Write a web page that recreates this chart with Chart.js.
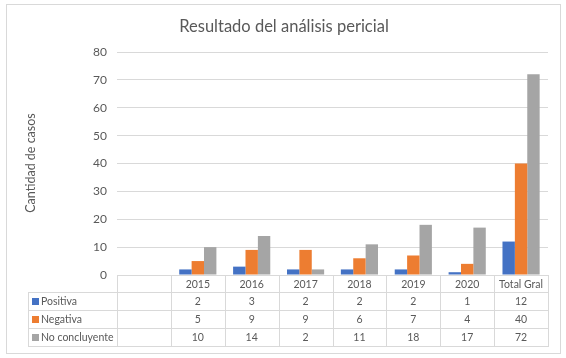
<!DOCTYPE html>
<html>
<head>
<meta charset="utf-8">
<script src="https://cdn.jsdelivr.net/npm/chart.js@4/dist/chart.umd.min.js"></script>
<style>
  html, body { margin: 0; padding: 0; background: #ffffff; }
  canvas { display: block; }
</style>
</head>
<body>
<canvas id="c" width="566" height="358"></canvas>
<script>
const chartTitle = 'Resultado del análisis pericial';
const yAxisTitle = 'Cantidad de casos';
const categories = ['', '2015', '2016', '2017', '2018', '2019', '2020', 'Total Gral'];
const seriesNames = ['Positiva', 'Negativa', 'No concluyente'];
const positiva = [null, 2, 3, 2, 2, 2, 1, 12];
const negativa = [null, 5, 9, 9, 6, 7, 4, 40];
const noConcluyente = [null, 10, 14, 2, 11, 18, 17, 72];
const seriesColors = ['#4472C4', '#ED7D31', '#A5A5A5'];
const yMin = 0, yMax = 80, yStep = 10;

const FONT = 'Lato, "Open Sans", sans-serif';
const TEXT = '#595959';
const LINE = '#D9D9D9';

const seriesData = [positiva, negativa, noConcluyente];

const framePlugin = {
  id: 'frame',
  beforeDraw(chart) {
    const ctx = chart.ctx;
    ctx.save();
    ctx.fillStyle = '#ffffff';
    ctx.fillRect(0, 0, chart.width, chart.height);
    ctx.strokeStyle = LINE;
    ctx.lineWidth = 1;
    ctx.strokeRect(6.5, 4.5, 554, 349);
    ctx.restore();
  },
  afterDraw(chart) {
    const ctx = chart.ctx;
    const ca = chart.chartArea;
    const x = chart.scales.x;
    ctx.save();
    // title
    ctx.fillStyle = TEXT;
    ctx.font = '16.5px ' + FONT;
    ctx.textAlign = 'center';
    ctx.textBaseline = 'middle';
    ctx.fillText(chartTitle, 284, 27);
    // y title
    ctx.save();
    ctx.translate(31, 163);
    ctx.rotate(-Math.PI / 2);
    ctx.font = '12.5px ' + FONT;
    ctx.fillText(yAxisTitle, 0, 0);
    ctx.restore();

    // data table
    const half = (x.getPixelForValue(1) - x.getPixelForValue(0)) / 2;
    const bounds = [];
    for (let i = 0; i < categories.length; i++) bounds.push(x.getPixelForValue(i) - half);
    bounds.push(x.getPixelForValue(categories.length - 1) + half);
    const tableLeft = 28;
    const top = Math.round(ca.bottom);
    const rows = [top, top + 17, top + 35, top + 53, top + 71];
    const right = bounds[bounds.length - 1];

    ctx.strokeStyle = LINE;
    ctx.lineWidth = 1;
    ctx.beginPath();
    ctx.moveTo(bounds[0], rows[0] + 0.5); ctx.lineTo(right, rows[0] + 0.5);
    for (let r = 1; r < rows.length; r++) {
      ctx.moveTo(tableLeft, rows[r] + 0.5); ctx.lineTo(right, rows[r] + 0.5);
    }
    ctx.moveTo(tableLeft + 0.5, rows[1]); ctx.lineTo(tableLeft + 0.5, rows[4] + 1);
    bounds.forEach(b => {
      const bx = Math.round(b) + 0.5;
      ctx.moveTo(bx, rows[0]); ctx.lineTo(bx, rows[4] + 1);
    });
    ctx.stroke();

    ctx.font = '10.5px ' + FONT;
    ctx.fillStyle = TEXT;
    ctx.textBaseline = 'middle';
    ctx.textAlign = 'center';
    categories.forEach((c, i) => {
      ctx.fillText(c, x.getPixelForValue(i), (rows[0] + rows[1]) / 2 + 1);
    });
    seriesNames.forEach((name, s) => {
      const cy = (rows[s + 1] + rows[s + 2]) / 2 + 1;
      ctx.fillStyle = seriesColors[s];
      ctx.fillRect(32, Math.round(cy) - 4, 7, 7);
      ctx.fillStyle = TEXT;
      ctx.textAlign = 'left';
      ctx.fillText(name, 41, cy);
      ctx.textAlign = 'center';
      seriesData[s].forEach((v, i) => {
        if (v !== null) ctx.fillText(String(v), x.getPixelForValue(i), cy);
      });
    });
    ctx.restore();
  }
};

new Chart(document.getElementById('c'), {
  type: 'bar',
  data: {
    labels: categories,
    datasets: seriesNames.map((n, s) => ({
      label: n,
      data: seriesData[s],
      backgroundColor: seriesColors[s],
      borderWidth: 0,
      categoryPercentage: 0.69,
      barPercentage: 1.0
    }))
  },
  options: {
    responsive: false,
    animation: false,
    devicePixelRatio: 1,
    layout: { padding: { left: 0, right: 18, top: 52, bottom: 83 } },
    plugins: {
      legend: { display: false },
      title: { display: false },
      tooltip: { enabled: false }
    },
    events: [],
    scales: {
      x: { display: false },
      y: {
        min: yMin, max: yMax,
        afterFit(scale) { scale.width = 117; },
        border: { display: false },
        grid: { color: LINE, drawTicks: false, lineWidth: 1 },
        ticks: { stepSize: yStep, padding: 10, color: TEXT, font: { family: FONT, size: 12 } }
      }
    }
  },
  plugins: [framePlugin]
});
</script>
</body>
</html>
